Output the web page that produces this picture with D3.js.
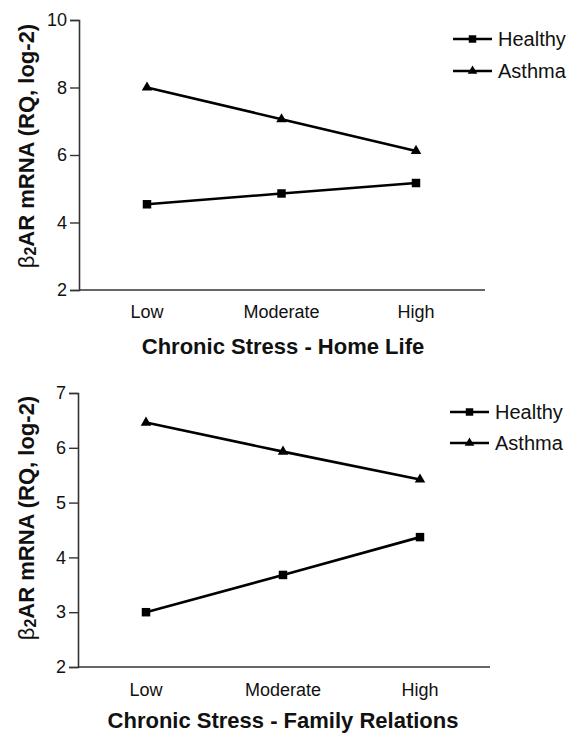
<!DOCTYPE html>
<html>
<head>
<meta charset="utf-8">
<script src="https://cdn.jsdelivr.net/npm/d3@7/dist/d3.min.js"></script>
<style>
  html, body { margin: 0; padding: 0; background: #fff; }
  svg { display: block; font-family: "Liberation Sans", Arial, sans-serif; }
</style>
</head>
<body>
<svg id="chart" width="570" height="734"></svg>
<script>
// ---- Data ----
const categories = ["Low", "Moderate", "High"];
const seriesNames = ["Healthy", "Asthma"];

const homeHealthy = [4.54, 4.86, 5.17];
const homeAsthma  = [8.00, 7.06, 6.12];
const homeTicks   = [2, 4, 6, 8, 10];

const famHealthy  = [3.00, 3.68, 4.37];
const famAsthma   = [6.46, 5.93, 5.42];
const famTicks    = [2, 3, 4, 5, 6, 7];

const panels = [
  { title: "Chronic Stress - Home Life", healthy: homeHealthy, asthma: homeAsthma,
    ticks: homeTicks, yDomain: [2, 10],
    axisX: 79, axisRight: 485, yTop: 20, yBottom: 290, xRange: [147, 416],
    tickLabelY: 312, titleY: 354, yLabelCenter: 146, legendY: [39, 71], legendX: 453 },
  { title: "Chronic Stress - Family Relations", healthy: famHealthy, asthma: famAsthma,
    ticks: famTicks, yDomain: [2, 7],
    axisX: 78, axisRight: 490, yTop: 393, yBottom: 667, xRange: [146, 420],
    tickLabelY: 690, titleY: 728, yLabelCenter: 518, legendY: [412, 443], legendX: 450 }
];

const svg = d3.select("#chart");

panels.forEach(p => {
  const g = svg.append("g");
  const x = d3.scalePoint().domain(categories).range(p.xRange);
  const y = d3.scaleLinear().domain(p.yDomain).range([p.yBottom, p.yTop]);

  // Y axis
  const yAxis = d3.axisLeft(y).tickValues(p.ticks).tickSize(9).tickPadding(3).tickFormat(d3.format("d"));
  const ya = g.append("g").attr("transform", `translate(${p.axisX},0)`).call(yAxis);
  ya.select(".domain").attr("stroke", "#333").attr("stroke-width", 1.6);
  ya.selectAll(".tick line").attr("stroke", "#333").attr("stroke-width", 1.4);
  ya.selectAll(".tick text").attr("font-size", 18).attr("fill", "#111")
    .attr("font-family", "Liberation Sans, Arial, sans-serif");

  // X axis line (no ticks)
  g.append("line")
    .attr("x1", p.axisX).attr("x2", p.axisRight)
    .attr("y1", y(p.yDomain[0])).attr("y2", y(p.yDomain[0]))
    .attr("stroke", "#333").attr("stroke-width", 1.6);

  // X category labels
  g.selectAll(".xlab").data(categories).enter().append("text")
    .attr("x", d => x(d)).attr("y", p.tickLabelY)
    .attr("text-anchor", "middle").attr("dominant-baseline", "central")
    .attr("font-size", 18).attr("fill", "#111").text(d => d);

  // X title
  g.append("text").attr("x", 283).attr("y", p.titleY)
    .attr("text-anchor", "middle")
    .attr("font-size", 22).attr("font-weight", "bold").attr("fill", "#111")
    .text(p.title);

  // Y label
  const yl = g.append("text")
    .attr("transform", `translate(26,${p.yLabelCenter}) rotate(-90)`)
    .attr("text-anchor", "middle").attr("dominant-baseline", "central")
    .attr("font-size", 22).attr("font-weight", "bold").attr("fill", "#111");
  yl.append("tspan").attr("font-weight", "normal").text("β");
  yl.append("tspan").attr("font-size", 16).attr("dy", 4).text("2");
  yl.append("tspan").attr("dy", -4).text("AR mRNA (RQ, log-2)");

  const line = d3.line().x((d, i) => x(categories[i])).y(d => y(d));

  // Lines
  [p.healthy, p.asthma].forEach(vals => {
    g.append("path").datum(vals).attr("d", line)
      .attr("fill", "none").attr("stroke", "#000").attr("stroke-width", 2.6);
  });

  // Markers
  const sq = d3.symbol().type(d3.symbolSquare).size(72);
  const tri = d3.symbol().type(d3.symbolTriangle).size(48);
  g.selectAll(".hm").data(p.healthy).enter().append("path")
    .attr("d", sq).attr("transform", (d, i) => `translate(${x(categories[i])},${y(d)})`)
    .attr("fill", "#000");
  g.selectAll(".am").data(p.asthma).enter().append("path")
    .attr("d", tri).attr("transform", (d, i) => `translate(${x(categories[i])},${y(d)})`)
    .attr("fill", "#000");

  // Legend
  seriesNames.forEach((name, k) => {
    const ly = p.legendY[k];
    g.append("line").attr("x1", p.legendX).attr("x2", p.legendX + 39)
      .attr("y1", ly).attr("y2", ly).attr("stroke", "#000").attr("stroke-width", 2.6);
    g.append("path").attr("d", k === 0 ? d3.symbol().type(d3.symbolSquare).size(56)() : d3.symbol().type(d3.symbolTriangle).size(40)())
      .attr("transform", `translate(${p.legendX + 19.5},${ly})`).attr("fill", "#000");
    g.append("text").attr("x", p.legendX + 45).attr("y", ly)
      .attr("dominant-baseline", "central").attr("font-size", 20).attr("fill", "#111")
      .text(name);
  });
});
</script>
</body>
</html>
